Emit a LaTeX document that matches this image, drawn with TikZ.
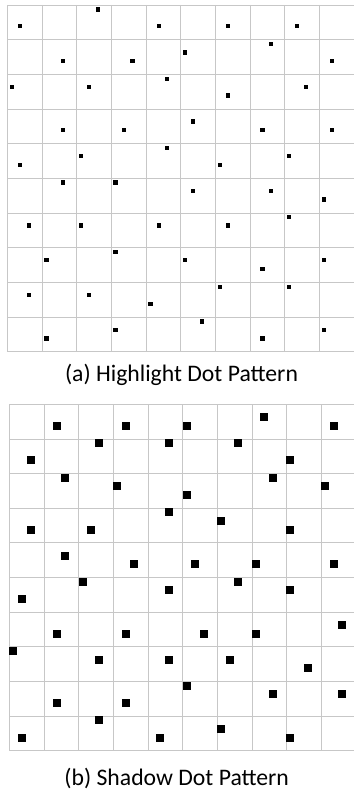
\documentclass[tikz,border=0pt]{standalone}
\usepackage{fontspec}
\setmainfont{Carlito}
\begin{document}
\begin{tikzpicture}[x=1pt,y=-1pt,
  gridline/.style={draw=black!22,line width=0.8pt},
  dotA/.style={fill=black},
  caption/.style={anchor=base,inner sep=0pt,font=\fontsize{23.7}{28}\selectfont}]
\useasboundingbox (0,0) rectangle (354,791);
% ---- top grid
\foreach \k in {0,...,9} \draw[gridline] ({7.3+\k*34.67},5) -- ({7.3+\k*34.67},351.7);
\foreach \k in {0,...,10} \draw[gridline] (7.3,{5+\k*34.67}) -- (354,{5+\k*34.67});
\foreach \x/\y in {97.7/9.7,20/26.3,158.7/26.3,63/61,132.3/61,167/79,11.7/87,89/87,63/130.3,123.7/130.3,167/148,80.7/156.3,20/165,
  227.7/26.3,297/26.3,271/44.3,185/52.7,331.7/61,305.7/87,227.7/95.7,193/121.7,262.3/130.3,331.7/130.3,289/156.3,219.7/165,
  63/182.7,115.3/182.7,28.7/225.7,80.7/225.7,158.7/225.7,115.3/252,46.3/260.3,28.7/295,89/295,150.3/303.7,115.3/329.7,46.3/338.3,
  193/191,271/191,323.7/199.7,289/217.3,227.7/225.7,185/260.3,323.7/260.3,262.3/269,219.7/286.7,289/286.7,201.7/321.3,323.7/329.7,262.3/338.3}
  \fill[dotA] ({\x-2.2},{\y-2.2}) rectangle ({\x+2.2},{\y+2.2});
\node[caption] (capA) at (181.5,381.7) {(a) Highlight Dot Pattern};
% ---- bottom grid
\foreach \k in {0,...,9} \draw[gridline] ({9.3+\k*34.67},404.3) -- ({9.3+\k*34.67},750.7);
\foreach \k in {0,...,10} \draw[gridline] (9.3,{404.3+\k*34.64}) -- (354,{404.3+\k*34.64});
\foreach \x/\y in {56.7/425.7,126/425.7,99.3/443,169/443,30.7/460.3,65.3/477.7,117.3/485.7,169/512.3,30.7/529.7,91/529.7,65.3/555.7,134.3/564.3,
  264.3/417,186.7/425.7,333.7/425.7,238.3/443,290.3/460.3,273/477.7,325.3/486,186.7/495,221/521,290.3/529.7,195.3/564.3,255.7/564.3,333.7/564.3,
  82.7/581.7,169/590.3,21.7/599,56.7/633.7,126/633.7,13.3/651,99.3/659.7,169/659.7,56.7/702.7,126/702.7,99.3/720.3,21.7/737.7,160.3/737.7,
  238.3/581.7,290.3/590.3,342.3/625,203.7/633.7,255.7/633.7,229.7/659.7,307.7/668.3,186.7/685.7,273/694,342.3/694,221/729,290.3/737.7}
  \fill[dotA] ({\x-3.9},{\y-3.9}) rectangle ({\x+3.9},{\y+3.9});
\node[caption] (capB) at (176.7,785) {(b) Shadow Dot Pattern};
\end{tikzpicture}
\end{document}
